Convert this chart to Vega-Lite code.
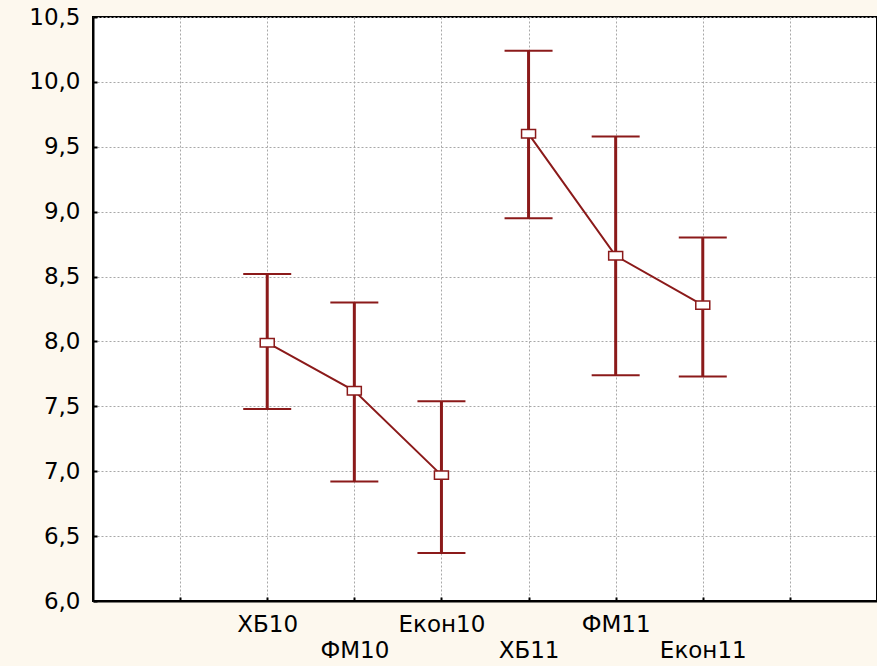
{
  "$schema": "https://vega.github.io/schema/vega-lite/v6.json",
  "width": 784,
  "height": 584,
  "autosize": {"type": "none"},
  "padding": {"left": 93, "top": 17, "right": 0, "bottom": 65},
  "background": "#fdf8ee",
  "config": {
    "view": {"fill": "#ffffff", "stroke": "#000000", "strokeWidth": 2},
    "font": "DejaVu Sans"
  },
  "data": {
    "values": [
      {"k": 2, "name": "ХБ10", "g": "10", "mean": 7.99, "lo": 7.48, "hi": 8.52},
      {"k": 3, "name": "ФМ10", "g": "10", "mean": 7.62, "lo": 6.92, "hi": 8.30},
      {"k": 4, "name": "Екон10", "g": "10", "mean": 6.97, "lo": 6.37, "hi": 7.54},
      {"k": 5, "name": "ХБ11", "g": "11", "mean": 9.60, "lo": 8.95, "hi": 10.24},
      {"k": 6, "name": "ФМ11", "g": "11", "mean": 8.66, "lo": 7.74, "hi": 9.58},
      {"k": 7, "name": "Екон11", "g": "11", "mean": 8.28, "lo": 7.73, "hi": 8.80}
    ]
  },
  "encoding": {
    "x": {
      "field": "k",
      "type": "quantitative",
      "scale": {"domain": [0, 9], "nice": false, "zero": false},
      "axis": {
        "title": null,
        "values": [1, 2, 3, 4, 5, 6, 7, 8],
        "grid": true,
        "gridColor": "#a8a8a8",
        "gridDash": [2, 2],
        "gridWidth": 1,
        "domainColor": "#000000",
        "domainWidth": 2,
        "tickColor": "#000000",
        "tickSize": -4,
        "tickWidth": 2,
        "labelExpr": "datum.value == 2 ? 'ХБ10' : datum.value == 3 ? 'ФМ10' : datum.value == 4 ? 'Екон10' : datum.value == 5 ? 'ХБ11' : datum.value == 6 ? 'ФМ11' : datum.value == 7 ? 'Екон11' : ''",
        "labelFont": "DejaVu Sans",
        "labelFontSize": 23,
        "labelColor": "#000000",
        "labelOverlap": false,
        "labelFlush": false,
        "labelBound": false,
        "labelAlign": "center",
        "labelBaseline": "top",
        "labelPadding": {"condition": {"test": "datum.value % 2 == 1", "value": 42}, "value": 16}
      }
    }
  },
  "layer": [
    {
      "mark": {"type": "rule", "color": "#8b1a1a", "strokeWidth": 3},
      "encoding": {
        "y": {
          "field": "lo",
          "type": "quantitative",
          "scale": {"domain": [6, 10.5], "nice": false, "zero": false},
          "axis": {
            "title": null,
            "values": [6, 6.5, 7, 7.5, 8, 8.5, 9, 9.5, 10, 10.5],
            "labelExpr": "replace(format(datum.value, '.1f'), '.', ',')",
            "grid": true,
            "gridColor": "#a8a8a8",
            "gridDash": [2, 2],
            "gridWidth": 1,
            "domainColor": "#000000",
            "domainWidth": 2,
            "tickColor": "#000000",
            "tickSize": -4,
            "tickWidth": 2,
            "labelFont": "DejaVu Sans",
            "labelFontSize": 23,
            "labelColor": "#000000",
            "labelPadding": 17,
            "labelOverlap": false,
            "labelFlush": false,
            "labelBound": false
          }
        },
        "y2": {"field": "hi"}
      }
    },
    {
      "mark": {"type": "tick", "orient": "horizontal", "color": "#8b1a1a", "size": 48, "thickness": 2, "opacity": 1},
      "encoding": {"y": {"field": "lo", "type": "quantitative"}}
    },
    {
      "mark": {"type": "tick", "orient": "horizontal", "color": "#8b1a1a", "size": 48, "thickness": 2, "opacity": 1},
      "encoding": {"y": {"field": "hi", "type": "quantitative"}}
    },
    {
      "mark": {"type": "line", "color": "#8b1a1a", "strokeWidth": 2},
      "encoding": {
        "y": {"field": "mean", "type": "quantitative"},
        "detail": {"field": "g", "type": "nominal"}
      }
    },
    {
      "mark": {"type": "point", "shape": "M-1,-0.6H1V0.6H-1Z", "size": 196, "filled": true, "fill": "#ffffff", "stroke": "#8b1a1a", "strokeWidth": 1.5, "opacity": 1},
      "encoding": {"y": {"field": "mean", "type": "quantitative"}}
    }
  ]
}
